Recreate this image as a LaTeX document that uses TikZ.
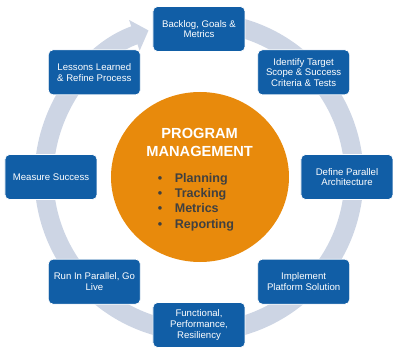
\documentclass[tikz,border=0pt]{standalone}
\usepackage{fontspec}
\setmainfont{Liberation Sans}
\usepackage{tikz}
\usetikzlibrary{arrows.meta, shapes.geometric}
\definecolor{figblue}{RGB}{17,94,166}
\definecolor{figorange}{RGB}{232,138,12}
\definecolor{figring}{RGB}{205,213,228}
\definecolor{figtext}{RGB}{64,64,64}
\tikzset{
  stepbox/.style={draw=white, fill=figblue, rounded corners=4pt,
              minimum width=2.76cm, minimum height=1.35cm, align=center,
              text=white, inner sep=1pt, line width=0.6pt,
              font=\fontsize{8.2}{9.1}\selectfont},
  hub/.style={ellipse, fill=figorange, minimum width=5.34cm,
              minimum height=5.1cm, inner sep=0pt},
  hubtitle/.style={align=center, text=white, inner sep=0pt,
              font=\fontsize{12.5}{15.4}\selectfont\bfseries},
  hubitems/.style={align=left, text=figtext, inner sep=0pt,
              font=\fontsize{10.7}{13}\selectfont\bfseries},
  ring/.style={figring, line width=0.57cm,
              -{Triangle[length=0.45cm, width=0.95cm]}},
}

\begin{document}
\begin{tikzpicture}
  \useasboundingbox (-5.97,-5.28) rectangle (6.00,5.31);

  % cycle arrow
  \draw[ring] (78:4.65) arc[start angle=78, end angle=-251, radius=4.65];

  % program management hub
  \node[hub] (hub) at (0.03,0) {};
  \node[hubtitle] (title) at (0.02,1.05) {PROGRAM\\MANAGEMENT};
  \node[hubitems, anchor=west] (items) at (-1.24,-0.75)
    {\textbullet\hspace{1em}Planning\\
     \textbullet\hspace{1em}Tracking\\
     \textbullet\hspace{1em}Metrics\\
     \textbullet\hspace{1em}Reporting};

  % steps
  \node[stepbox] (backlog)   at (90:4.44)  {Backlog, Goals \&\\Metrics};
  \node[stepbox] (scope)     at (45:4.44)  {Identify Target\\Scope \& Success\\Criteria \& Tests};
  \node[stepbox] (arch)      at (0:4.44)   {Define Parallel\\Architecture};
  \node[stepbox] (platform)  at (-45:4.44) {Implement\\Platform Solution};
  \node[stepbox] (testing)   at (-90:4.44) {Functional,\\Performance,\\Resiliency};
  \node[stepbox] (golive)    at (-135:4.44) {Run In Parallel, Go\\Live};
  \node[stepbox] (measure)   at (180:4.44) {Measure Success};
  \node[stepbox] (lessons)   at (135:4.44) {Lessons Learned\\\& Refine Process};
\end{tikzpicture}
\end{document}
